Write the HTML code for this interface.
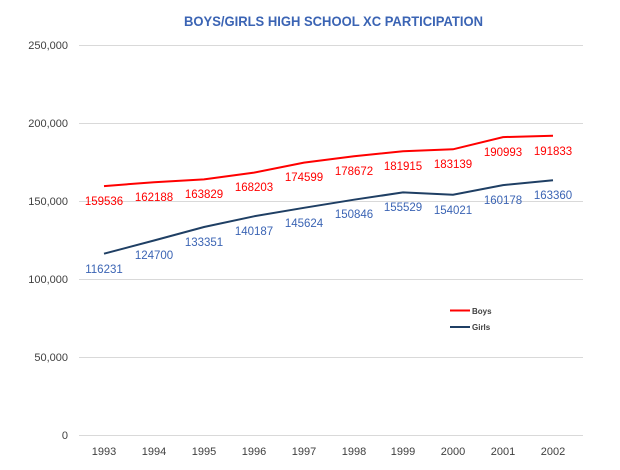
<!DOCTYPE html>
<html><head><meta charset="utf-8"><style>
html,body{margin:0;padding:0;background:#fff}
svg{display:block;font-family:"Liberation Sans",sans-serif}
</style></head><body>
<svg width="620" height="470" xmlns="http://www.w3.org/2000/svg">
<text x="184" y="26" textLength="299" lengthAdjust="spacingAndGlyphs" font-size="14" font-weight="bold" fill="#3b64b4">BOYS/GIRLS HIGH SCHOOL XC PARTICIPATION</text>
<g stroke="#d9d9d9" stroke-width="1">
<line x1="79" x2="583" y1="45.5" y2="45.5"/>
<line x1="79" x2="583" y1="123.5" y2="123.5"/>
<line x1="79" x2="583" y1="201.5" y2="201.5"/>
<line x1="79" x2="583" y1="279.5" y2="279.5"/>
<line x1="79" x2="583" y1="357.5" y2="357.5"/>
<line x1="79" x2="583" y1="435.5" y2="435.5"/>
</g>
<g font-size="11" fill="#404040" text-anchor="end">
<text x="68" y="49">250,000</text>
<text x="68" y="127">200,000</text>
<text x="68" y="205">150,000</text>
<text x="68" y="283">100,000</text>
<text x="68" y="361">50,000</text>
<text x="68" y="439">0</text>
</g>
<g font-size="11" fill="#404040" text-anchor="middle">
<text x="104" y="455">1993</text><text x="154" y="455">1994</text><text x="204" y="455">1995</text><text x="254" y="455">1996</text><text x="304" y="455">1997</text><text x="354" y="455">1998</text><text x="403" y="455">1999</text><text x="453" y="455">2000</text><text x="503" y="455">2001</text><text x="553" y="455">2002</text>
</g>
<polyline fill="none" stroke="#ff0000" stroke-width="2" points="104,186.1 154,182.2 204,179.4 254,172.6 304,162.6 354,156.3 403,151.2 453,149.3 503,137.1 553,135.7"/>
<polyline fill="none" stroke="#1f3f64" stroke-width="2" points="104,253.7 154,240.5 204,227 254,216.3 304,207.8 354,199.7 403,192.4 453,194.7 503,185.1 553,180.2"/>
<g font-size="11.5" fill="#ff0000" text-anchor="middle">
<text x="104" y="205">159536</text><text x="154" y="201">162188</text><text x="204" y="198">163829</text><text x="254" y="191">168203</text><text x="304" y="181">174599</text><text x="354" y="175">178672</text><text x="403" y="170">181915</text><text x="453" y="168">183139</text><text x="503" y="156">190993</text><text x="553" y="155">191833</text>
</g>
<g font-size="11.5" fill="#3b64b4" text-anchor="middle">
<text x="104" y="273">116231</text><text x="154" y="259">124700</text><text x="204" y="246">133351</text><text x="254" y="235">140187</text><text x="304" y="227">145624</text><text x="354" y="218">150846</text><text x="403" y="211">155529</text><text x="453" y="214">154021</text><text x="503" y="204">160178</text><text x="553" y="199">163360</text>
</g>
<line x1="450" x2="470" y1="310.5" y2="310.5" stroke="#ff0000" stroke-width="2"/>
<text x="472" y="314" font-size="8" fill="#404040" font-weight="bold">Boys</text>
<line x1="450" x2="470" y1="327" y2="327" stroke="#1f3f64" stroke-width="2"/>
<text x="472" y="330" font-size="8" fill="#404040" font-weight="bold">Girls</text>
</svg>
</body></html>
